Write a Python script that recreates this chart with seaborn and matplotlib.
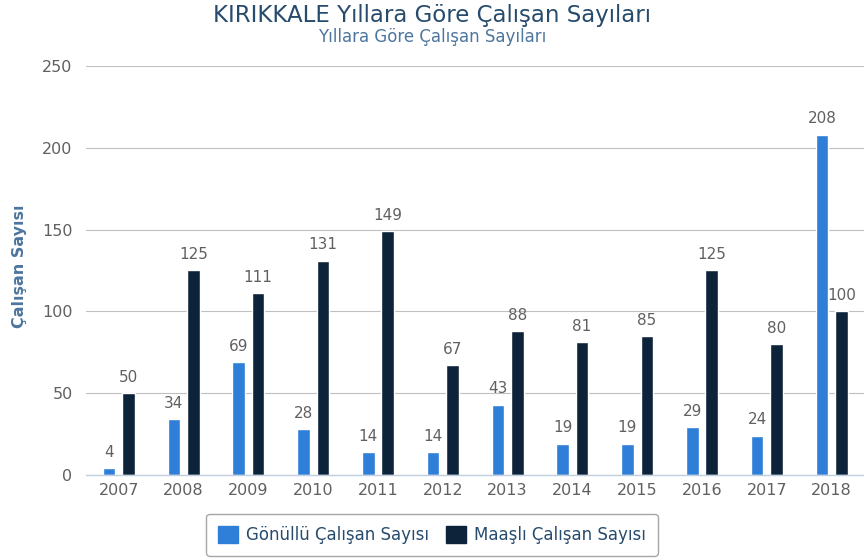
import pandas as pd
import matplotlib.pyplot as plt
import seaborn as sns
from matplotlib.patches import Patch

# --------------------------------------------------
# Data
# --------------------------------------------------
years = ["2007", "2008", "2009", "2010", "2011", "2012",
         "2013", "2014", "2015", "2016", "2017", "2018"]
gonullu = [4, 34, 69, 28, 14, 14, 43, 19, 19, 29, 24, 208]
maasli = [50, 125, 111, 131, 149, 67, 88, 81, 85, 125, 80, 100]
series_names = ["Gönüllü Çalışan Sayısı", "Maaşlı Çalışan Sayısı"]
colors = ["#2f7ed8", "#0d233a"]

df = pd.DataFrame({
    "Yil": years * 2,
    "Deger": gonullu + maasli,
    "Seri": [series_names[0]] * len(years) + [series_names[1]] * len(years),
})

sns.set_style("white")
plt.rcParams["font.family"] = ["DejaVu Sans"]

fig = plt.figure(figsize=(8.64, 5.6), dpi=100)
ax = fig.add_axes([0.1, 0.152, 0.9, 0.73])

sns.barplot(
    data=df, x="Yil", y="Deger", hue="Seri",
    palette=colors, width=0.6, gap=0.35,
    saturation=1, legend=False, ax=ax
)

# data labels
for cont in ax.containers:
    ax.bar_label(cont, padding=6, color="#606060", fontsize=11)

# axes styling
ax.set_ylim(0, 250)
ax.set_yticks([0, 50, 100, 150, 200, 250])
ax.set_xlim(-0.5, 11.5)
ax.grid(axis="y", color="#c0c0c0", linewidth=0.8)
ax.set_axisbelow(True)
for s in ["top", "right", "left"]:
    ax.spines[s].set_visible(False)
ax.spines["bottom"].set_color("#c0d0e0")
ax.spines["bottom"].set_linewidth(1)
ax.tick_params(axis="y", length=0, pad=10, labelcolor="#606060", labelsize=11.5)
ax.tick_params(axis="x", length=0, pad=6, labelcolor="#606060", labelsize=11.5)
ax.set_xticks([i - 0.5 for i in range(1, 12)], minor=True)
ax.tick_params(axis="x", which="minor", length=5, color="#c0d0e0", width=1)
ax.set_xlabel("")
ax.set_ylabel("")

# titles
fig.text(0.5, 0.972, "KIRIKKALE Yıllara Göre Çalışan Sayıları",
         ha="center", va="center", fontsize=16.5, color="#274b6d")
fig.text(0.5, 0.934, "Yıllara Göre Çalışan Sayıları",
         ha="center", va="center", fontsize=12, color="#4d759e")
fig.text(0.023, 0.525, "Çalışan Sayısı", rotation=90,
         ha="center", va="center", fontsize=11.5, color="#4d759e",
         fontweight="bold")

# legend
handles = [Patch(facecolor=c, edgecolor=c) for c in colors]
leg = fig.legend(handles, series_names, loc="center", bbox_to_anchor=(0.5, 0.045),
                 ncol=2, frameon=True, fancybox=True, fontsize=12,
                 handlelength=1.2, handleheight=1.2, columnspacing=1.0,
                 handletextpad=0.5, borderpad=0.7)
leg.get_frame().set_edgecolor("#909090")
leg.get_frame().set_linewidth(1)
for t in leg.get_texts():
    t.set_color("#274b6d")

fig.savefig("out.png", dpi=100)
